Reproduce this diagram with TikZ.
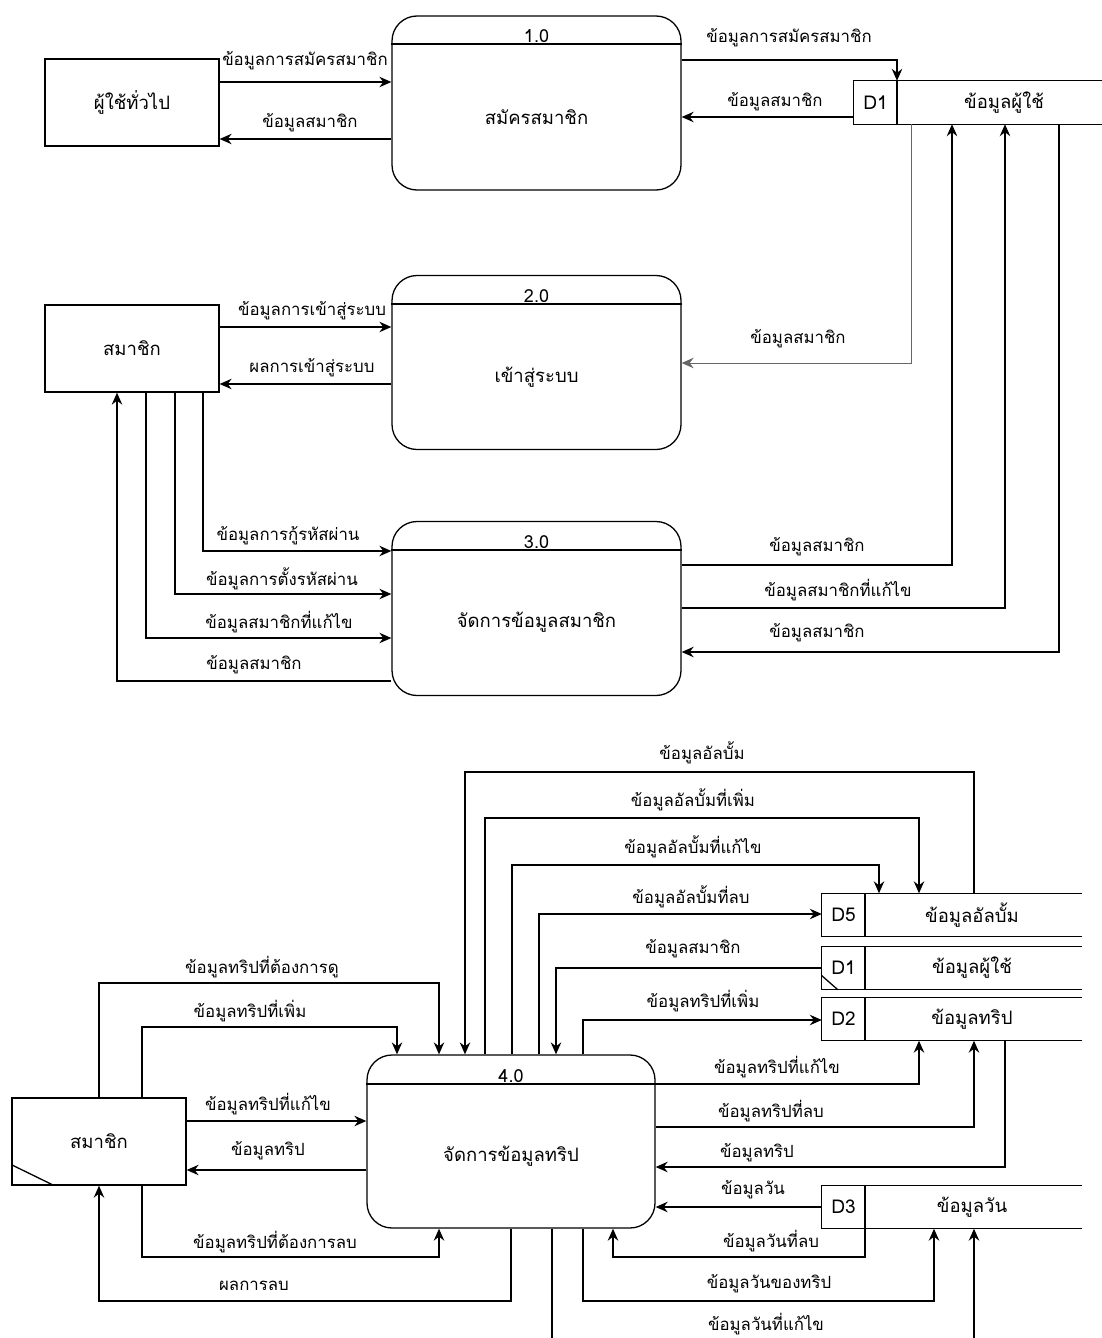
\documentclass[tikz,border=0pt]{standalone}
\usepackage{fontspec}
\setmainfont[Script=Thai]{Loma}
\usetikzlibrary{arrows.meta,calc}

\tikzset{
	line/.style={draw, line width=1.3pt},
	flow/.style={line, -{Stealth[length=12pt,width=10.5pt,inset=4pt]}},
	lbl/.style={font=\fontsize{16.8}{20}\selectfont, inner sep=0pt},
	entity/.style={draw, line width=1.3pt, minimum width=174pt, minimum height=87pt, inner sep=0pt, font=\fontsize{18.5}{22}\selectfont},
	proc/.style={draw, line width=1.3pt, rounded corners=25pt, minimum width=289pt, minimum height=174pt, inner sep=0pt},
	ptext/.style={font=\fontsize{18.5}{22}\selectfont, inner sep=0pt},
	num/.style={font=\fontsize{18}{21}\selectfont, inner sep=1.5pt, above},
	store/.style={minimum height=43pt, inner sep=0pt},
	sid/.style={font=\fontsize{19}{22}\selectfont, inner sep=0pt},
	sname/.style={font=\fontsize{18.5}{22}\selectfont, inner sep=0pt}
}

% open-ended data store: outline and id divider
\newcommand{\storeline}[2]{%
	\draw[line] (#1.north east) -- (#1.north west) -- (#1.south west) -- (#1.south east);
	\draw[line] (#2,0 |- #1.north) -- (#2,0 |- #1.south);}

\begin{document}
\begin{tikzpicture}[x=1pt,y=-1pt]
	\useasboundingbox (0,0) rectangle (1102,1338);

	% external entities
	\node[entity] (user) at (132,102.5) {ผู้ใช้ทั่วไป};
	\node[entity] (member) at (132,348.5) {สมาชิก};
	\node[entity] (member2) at (99,1141.5) {สมาชิก};
	\draw[line] ($(member2.south west)+(0,-21)$) -- ($(member2.south west)+(43,0)$);

	% processes
	\node[proc] (p1) at (536.5,103) {};
	\draw[line] (p1.west |- 0,44) -- (p1.east |- 0,44);
	\node[num] (p1num) at (536.5,44) {1.0};
	\node[ptext] (p1txt) at (536.5,117) {สมัครสมาชิก};

	\node[proc] (p2) at (536.5,362.5) {};
	\draw[line] (p2.west |- 0,304) -- (p2.east |- 0,304);
	\node[num] (p2num) at (536.5,304) {2.0};
	\node[ptext] (p2txt) at (536.5,377) {เข้าสู่ระบบ};

	\node[proc] (p3) at (536.5,608.5) {};
	\draw[line] (p3.west |- 0,550) -- (p3.east |- 0,550);
	\node[num] (p3num) at (536.5,550) {3.0};
	\node[ptext] (p3txt) at (536.5,622.5) {จัดการข้อมูลสมาชิก};

	\node[proc, minimum width=288pt, minimum height=173pt] (p4) at (511,1141.5) {};
	\draw[line] (p4.west |- 0,1084) -- (p4.east |- 0,1084);
	\node[num] (p4num) at (511,1084) {4.0};
	\node[ptext] (p4txt) at (511,1156) {จัดการข้อมูลทริป};

	% data stores
	\node[store, minimum width=248pt] (d1) at (978,102.5) {};
	\storeline{d1}{897}
	\node[sid] (d1id) at (875.5,102.5) {D1};
	\node[sname] (d1nm) at (1004,102.5) {ข้อมูลผู้ใช้};

	\node[store, minimum width=260pt] (d5) at (952,915) {};
	\storeline{d5}{865}
	\node[sid] (d5id) at (843.5,915) {D5};
	\node[sname] (d5nm) at (972,915) {ข้อมูลอัลบั้ม};

	\node[store, minimum width=260pt] (d1b) at (952,968) {};
	\storeline{d1b}{865}
	\draw[line] ($(d1b.south west)+(0,-14)$) -- ($(d1b.south west)+(16,0)$);
	\node[sid] (d1bid) at (843.5,968) {D1};
	\node[sname] (d1bnm) at (972,968) {ข้อมูลผู้ใช้};

	\node[store, minimum width=260pt] (d2) at (952,1019) {};
	\storeline{d2}{865}
	\node[sid] (d2id) at (843.5,1019) {D2};
	\node[sname] (d2nm) at (972,1019) {ข้อมูลทริป};

	\node[store, minimum width=260pt] (d3) at (952,1207) {};
	\storeline{d3}{865}
	\node[sid] (d3id) at (843.5,1207) {D3};
	\node[sname] (d3nm) at (972,1207) {ข้อมูลวัน};

	% flows of 1.0
	\draw[flow] (user.east |- 0,82) -- (p1.west |- 0,82);
	\node[lbl] (l1) at (305,61) {ข้อมูลการสมัครสมาชิก};
	\draw[flow] (p1.west |- 0,139) -- (user.east |- 0,139);
	\node[lbl] (l2) at (310,123) {ข้อมูลสมาชิก};
	\draw[flow] (p1.east |- 0,60) -- (897,60) -- (897,0 |- d1.north);
	\node[lbl] (l3) at (789,38) {ข้อมูลการสมัครสมาชิก};
	\draw[flow] (d1.west |- 0,117) -- (p1.east |- 0,117);
	\node[lbl] (l4) at (775,102) {ข้อมูลสมาชิก};

	% flows of 2.0
	\draw[flow] (member.east |- 0,327) -- (p2.west |- 0,327);
	\node[lbl] (l5) at (312,311) {ข้อมูลการเข้าสู่ระบบ};
	\draw[flow] (p2.west |- 0,384) -- (member.east |- 0,384);
	\node[lbl] (l6) at (312,368) {ผลการเข้าสู่ระบบ};
	\draw[flow, draw=black!60, line width=1pt] (911,0 |- d1.south) -- (911,363) -- (p2.east |- 0,363);
	\node[lbl] (l7) at (798,339) {ข้อมูลสมาชิก};

	% flows of 3.0
	\draw[flow] (203,0 |- member.south) -- (203,551) -- (p3.west |- 0,551);
	\node[lbl] (l8) at (288,536) {ข้อมูลการกู้รหัสผ่าน};
	\draw[flow] (175,0 |- member.south) -- (175,594) -- (p3.west |- 0,594);
	\node[lbl] (l9) at (282,579) {ข้อมูลการตั้งรหัสผ่าน};
	\draw[flow] (146,0 |- member.south) -- (146,638) -- (p3.west |- 0,638);
	\node[lbl] (l10) at (279,622) {ข้อมูลสมาชิกที่แก้ไข};
	\draw[flow] (p3.west |- 0,681) -- (117,681) -- (117,0 |- member.south);
	\node[lbl] (l11) at (254,665) {ข้อมูลสมาชิก};
	\draw[flow] (p3.east |- 0,565) -- (952,565) -- (952,0 |- d1.south);
	\node[lbl] (l12) at (817,547) {ข้อมูลสมาชิก};
	\draw[flow] (p3.east |- 0,608) -- (1005,608) -- (1005,0 |- d1.south);
	\node[lbl] (l13) at (838,590) {ข้อมูลสมาชิกที่แก้ไข};
	\draw[flow] (1059,0 |- d1.south) -- (1059,652) -- (p3.east |- 0,652);
	\node[lbl] (l14) at (817,633) {ข้อมูลสมาชิก};

	% flows of 4.0, upper side
	\draw[flow] (974,0 |- d5.north) -- (974,772) -- (465,772) -- (465,0 |- p4.north);
	\node[lbl] (l15) at (702,753) {ข้อมูลอัลบั้ม};
	\draw[flow] (485,0 |- p4.north) -- (485,818) -- (919,818) -- (919,0 |- d5.north);
	\node[lbl] (l16) at (693,800) {ข้อมูลอัลบั้มที่เพิ่ม};
	\draw[flow] (512,0 |- p4.north) -- (512,865) -- (879,865) -- (879,0 |- d5.north);
	\node[lbl] (l17) at (693,847) {ข้อมูลอัลบั้มที่แก้ไข};
	\draw[flow] (539,0 |- p4.north) -- (539,914) -- (d5.west |- 0,914);
	\node[lbl] (l18) at (691,897) {ข้อมูลอัลบั้มที่ลบ};
	\draw[flow] (d1b.west |- 0,968) -- (556,968) -- (556,0 |- p4.north);
	\node[lbl] (l19) at (693,949) {ข้อมูลสมาชิก};
	\draw[flow] (583,0 |- p4.north) -- (583,1020) -- (d2.west |- 0,1020);
	\node[lbl] (l20) at (703,1001) {ข้อมูลทริปที่เพิ่ม};

	% flows of 4.0, right side
	\draw[flow] (p4.east |- 0,1084) -- (919,1084) -- (919,0 |- d2.south);
	\node[lbl] (l21) at (777,1067) {ข้อมูลทริปที่แก้ไข};
	\draw[flow] (p4.east |- 0,1127) -- (974,1127) -- (974,0 |- d2.south);
	\node[lbl] (l22) at (771,1111) {ข้อมูลทริปที่ลบ};
	\draw[flow] (1005,0 |- d2.south) -- (1005,1167) -- (p4.east |- 0,1167);
	\node[lbl] (l23) at (757,1153) {ข้อมูลทริป};
	\draw[flow] (d3.west |- 0,1207) -- (p4.east |- 0,1207);
	\node[lbl] (l24) at (753,1190) {ข้อมูลวัน};
	\draw[flow] (865,0 |- d3.south) -- (865,1257) -- (613,1257) -- (613,0 |- p4.south);
	\node[lbl] (l25) at (771,1241) {ข้อมูลวันที่ลบ};
	\draw[flow] (583,0 |- p4.south) -- (583,1301) -- (934,1301) -- (934,0 |- d3.south);
	\node[lbl] (l26) at (769,1284) {ข้อมูลวันของทริป};
	\draw[flow] (552,0 |- p4.south) -- (552,1360) -- (974,1360) -- (974,0 |- d3.south);
	\node[lbl] (l27) at (766,1324) {ข้อมูลวันที่แก้ไข};

	% flows of 4.0, member side
	\draw[flow] (99,0 |- member2.north) -- (99,983) -- (439,983) -- (439,0 |- p4.north);
	\node[lbl] (l28) at (262,967) {ข้อมูลทริปที่ต้องการดู};
	\draw[flow] (142,0 |- member2.north) -- (142,1027) -- (397,1027) -- (397,0 |- p4.north);
	\node[lbl] (l29) at (250,1011) {ข้อมูลทริปที่เพิ่ม};
	\draw[flow] (member2.east |- 0,1121) -- (p4.west |- 0,1121);
	\node[lbl] (l30) at (268,1104) {ข้อมูลทริปที่แก้ไข};
	\draw[flow] (p4.west |- 0,1170) -- (member2.east |- 0,1170);
	\node[lbl] (l31) at (268,1151) {ข้อมูลทริป};
	\draw[flow] (142,0 |- member2.south) -- (142,1257) -- (439,1257) -- (439,0 |- p4.south);
	\node[lbl] (l32) at (275,1242) {ข้อมูลทริปที่ต้องการลบ};
	\draw[flow] (511,0 |- p4.south) -- (511,1301) -- (99,1301) -- (99,0 |- member2.south);
	\node[lbl] (l33) at (254,1286) {ผลการลบ};
\end{tikzpicture}
\end{document}
